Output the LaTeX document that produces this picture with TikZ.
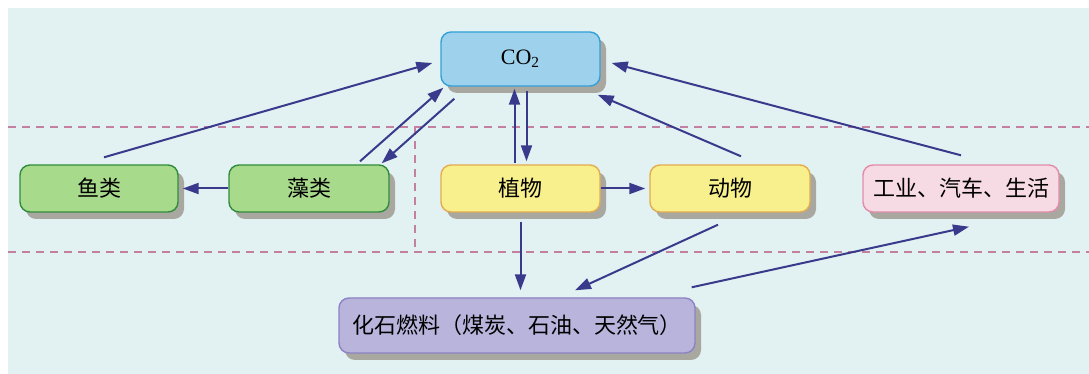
\documentclass[tikz,border=0pt]{standalone}
\usepackage{fontspec}
\setmainfont{Liberation Serif}
\newfontfamily\hei{Noto Sans CJK SC}
\usetikzlibrary{arrows.meta,calc,shadows}
\definecolor{paper}{RGB}{226,242,242}
\definecolor{ink}{RGB}{58,58,140}
\definecolor{guide}{RGB}{196,128,160}
\definecolor{skyFill}{RGB}{158,210,236}
\definecolor{skyLine}{RGB}{52,160,216}
\definecolor{leafFill}{RGB}{168,218,140}
\definecolor{leafLine}{RGB}{48,140,60}
\definecolor{sunFill}{RGB}{248,240,140}
\definecolor{sunLine}{RGB}{228,172,80}
\definecolor{roseFill}{RGB}{246,218,228}
\definecolor{roseLine}{RGB}{226,140,170}
\definecolor{lilacFill}{RGB}{184,180,220}
\definecolor{lilacLine}{RGB}{140,130,196}
\definecolor{shade}{RGB}{168,168,160}
\tikzset{
  box/.style={rounded corners=5pt,line width=0.7pt,minimum height=23.5pt,
    inner sep=0pt,font=\hei\fontsize{11pt}{13pt}\selectfont,
    drop shadow={shadow xshift=3pt,shadow yshift=-3.5pt,fill=shade,opacity=1}},
  ar/.style={draw=ink,line width=1pt,-{Triangle[length=8pt,width=5.5pt]}},
  guideline/.style={draw=guide,dash pattern=on 4pt off 3pt,line width=0.6pt},
}

\begin{document}
\begin{tikzpicture}[x=0.5pt,y=-0.5pt]
  \useasboundingbox (0,0) rectangle (1089,374);
  \fill[paper] (8,8) rectangle (1089,374);
  % guide lines
  \foreach \y in {127,252}
    \draw[guideline] (8,\y) -- (1089,\y);
  \draw[guideline] (415,127) -- (415,252);
  % boxes
  \node[box,fill=skyFill,draw=skyLine,minimum width=79.5pt,minimum height=27pt,
    font=\fontsize{11pt}{12pt}\selectfont] (co2) at (520.5,59) {CO\textsubscript{2}};
  \foreach \name/\x/\w/\fl/\ln/\txt in {yu/99/79/leafFill/leafLine/鱼类,
      zao/309/80/leafFill/leafLine/藻类,zhi/520.5/79.5/sunFill/sunLine/植物,
      dong/730/80/sunFill/sunLine/动物,gong/961/98/roseFill/roseLine/工业、汽车、生活} {
    \node[box,fill=\fl,draw=\ln,minimum width=\w pt] (\name) at (\x,188.5) {\txt};
  }
  \node[box,fill=lilacFill,draw=lilacLine,minimum width=178pt,minimum height=27.5pt]
    (hua) at (517,325.5) {化石燃料（煤炭、石油、天然气）};
  % flows
  \draw[ar] ($(yu.north)+(5,-7)$) -- ($(co2.west)+(-8,4)$);
  \draw[ar] ($(zao.north)+(51,-3)$) -- ($(co2.south west)+(3,1)$);
  \draw[ar] ($(co2.south west)+(14,12)$) -- ($(zao.north east)+(-8,-1)$);
  \draw[ar] ($(zhi.north)+(-6,-1)$) -- ($(co2.south)+(-6,2)$);
  \draw[ar] ($(co2.south)+(6,4)$) -- ($(zhi.north)+(6,-3)$);
  \draw[ar,shorten >=2pt] (zao.west) -- (yu.east);
  \draw[ar,shorten >=2pt] (zhi.east) -- (dong.west);
  \draw[ar] ($(dong.north)+(11,-8)$) -- ($(co2.south east)+(-3,8)$);
  \draw[ar] ($(gong.north)+(0,-9)$) -- ($(co2.east)+(11,4)$);
  \draw[ar] ($(zhi.south)+(0,9)$) -- ($(zhi.south |- hua.north)+(0,-7)$);
  \draw[ar] ($(dong.south)+(-12,12)$) -- ($(hua.north)+(58,-7)$);
  \draw[ar] ($(hua.north east)+(-4,-10)$) -- ($(gong.south)+(8,14)$);
\end{tikzpicture}
\end{document}
